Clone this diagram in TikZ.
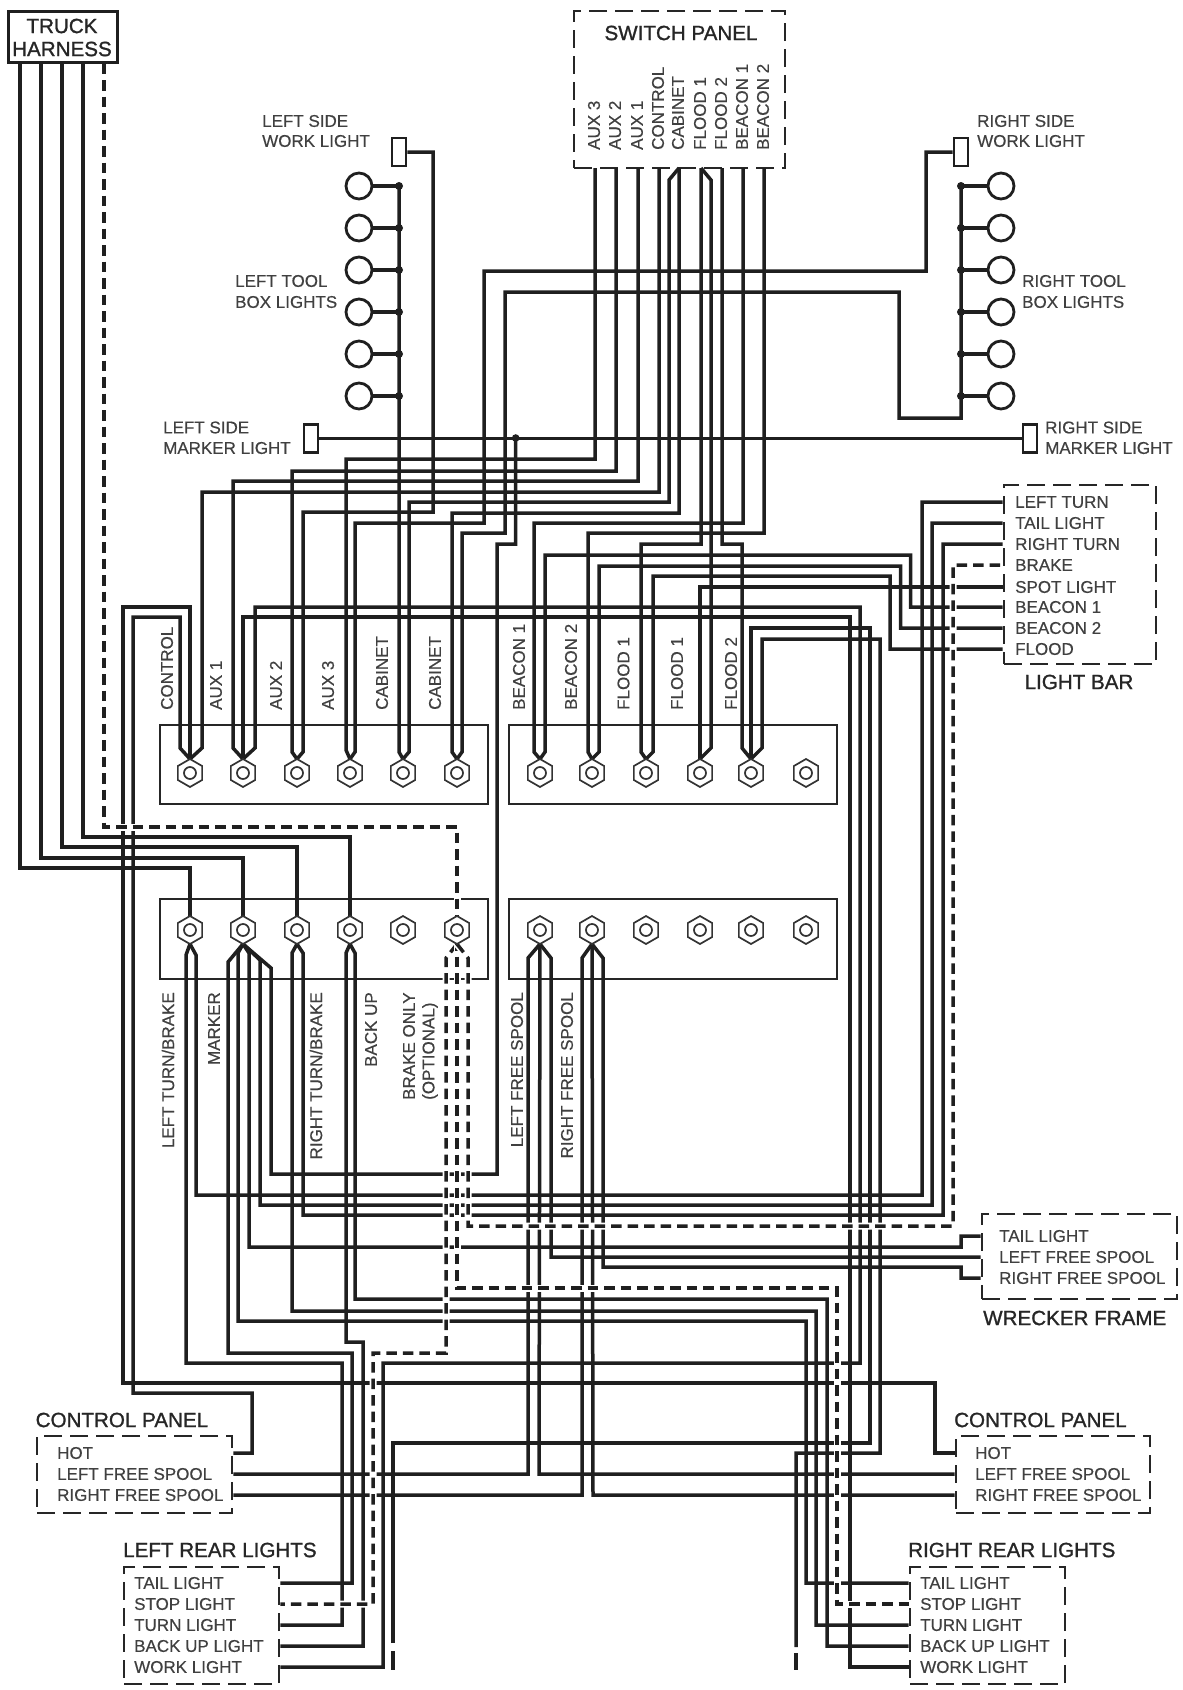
\documentclass[tikz,border=0pt]{standalone}
\usepackage{fontspec}
\setmainfont{Liberation Sans}
\newfontfamily\lblfont[FakeBold=0.5]{Liberation Sans}
\newfontfamily\ttlfont[FakeBold=1.2]{Liberation Sans}
\usetikzlibrary{calc, positioning, shapes.geometric}
\tikzset{
    wire/.style={line width=3.5pt, draw=black!88, line join=miter},
    dashwire/.style={wire, dash pattern=on 10.5pt off 6pt, preaction={draw=white, line width=7pt, solid}},
    panel/.style={rectangle, draw=black!85, line width=2.8pt, dash pattern=on 18pt off 8pt, inner sep=0pt},
    truck/.style={rectangle, draw=black!88, line width=3pt, inner sep=0pt},
    block/.style={rectangle, draw=black!85, line width=2.8pt, inner sep=0pt},
    lamp/.style={rectangle, draw=black!88, line width=2.8pt, inner sep=0pt, minimum width=14pt, minimum height=28pt},
    bulb/.style={circle, draw=black!88, line width=2.8pt, inner sep=0pt, minimum size=26pt},
    stud/.style={regular polygon, regular polygon sides=6, shape border rotate=30, draw=black!80, line width=1.7pt, inner sep=0pt, minimum size=28pt, fill=white},
    lbl/.style={font=\lblfont\fontsize{17}{20.5}\selectfont, text=black!75, inner sep=0pt, anchor=west},
    ttl/.style={font=\ttlfont\fontsize{20.6}{23}\selectfont, text=black!85, inner sep=0pt},
    vlbl/.style={lbl, rotate=90}
}
\begin{document}
\begin{tikzpicture}[x=1pt, y=-1pt]
    \useasboundingbox (0,0) rectangle (1183,1690);

    % Boxes
    \node[truck, minimum width=109pt, minimum height=51pt] (truckBox) at (62.5,36.5) {};
    \node[ttl] (truckA) at (62,26) {TRUCK};
    \node[ttl] (truckB) at (62,49) {HARNESS};
    \node[panel, minimum width=211pt, minimum height=157pt] (switchBox) at (679.5,89.5) {};
    \node[ttl] (switchTtl) at (681,33) {SWITCH PANEL};
    \node[panel, minimum width=152pt, minimum height=179pt] (lightBar) at (1080,574.5) {};
    \node[ttl] (lightTtl) at (1079,682) {LIGHT BAR};
    \node[panel, minimum width=195pt, minimum height=85pt] (wrecker) at (1079.5,1256.5) {};
    \node[ttl, anchor=west] (wreckerTtl) at (983,1318) {WRECKER FRAME};
    \node[panel, minimum width=195pt, minimum height=77pt] (ctlL) at (134.5,1474.5) {};
    \node[ttl, anchor=west] (ctlLTtl) at (35.5,1420) {CONTROL PANEL};
    \node[panel, minimum width=194pt, minimum height=77pt] (ctlR) at (1053,1474.5) {};
    \node[ttl, anchor=west] (ctlRTtl) at (954,1420) {CONTROL PANEL};
    \node[panel, minimum width=155pt, minimum height=117pt] (rearL) at (201.5,1625.5) {};
    \node[ttl, anchor=west] (rearLTtl) at (123,1550) {LEFT REAR LIGHTS};
    \node[panel, minimum width=155pt, minimum height=117pt] (rearR) at (987.5,1625.5) {};
    \node[ttl, anchor=west] (rearRTtl) at (908,1550) {RIGHT REAR LIGHTS};

    % Terminal blocks
    \node[block, minimum width=328pt, minimum height=79pt] (upL) at (324,764.5) {};
    \node[block, minimum width=328pt, minimum height=79pt] (upR) at (673,764.5) {};
    \node[block, minimum width=328pt, minimum height=80pt] (loL) at (324,939) {};
    \node[block, minimum width=328pt, minimum height=80pt] (loR) at (673,939) {};

    % Panel rows
    \foreach \nm/\tx/\y in {lbLeftTurn/LEFT TURN/502, lbTail/TAIL LIGHT/523, lbRightTurn/RIGHT TURN/544, lbBrake/BRAKE/565, lbSpot/SPOT LIGHT/587, lbBeacon1/BEACON 1/607, lbBeacon2/BEACON 2/628, lbFlood/FLOOD/649}
        \node[lbl] (\nm) at (1015,\y) {\tx};
    \foreach \nm/\tx/\y in {wfTail/TAIL LIGHT/1236, wfLeft/LEFT FREE SPOOL/1257, wfRight/RIGHT FREE SPOOL/1278}
        \node[lbl] (\nm) at (999,\y) {\tx};
    \foreach \nm/\tx/\y in {clHot/HOT/1453, clLeft/LEFT FREE SPOOL/1474, clRight/RIGHT FREE SPOOL/1495}
        \node[lbl] (\nm) at (57,\y) {\tx};
    \foreach \nm/\tx/\y in {crHot/HOT/1453, crLeft/LEFT FREE SPOOL/1474, crRight/RIGHT FREE SPOOL/1495}
        \node[lbl] (\nm) at (975,\y) {\tx};
    \foreach \nm/\tx/\y in {lrTail/TAIL LIGHT/1583, lrStop/STOP LIGHT/1604, lrTurn/TURN LIGHT/1625, lrBack/BACK UP LIGHT/1646, lrWork/WORK LIGHT/1667}
        \node[lbl] (\nm) at (134,\y) {\tx};
    \foreach \nm/\tx/\y in {rrTail/TAIL LIGHT/1583, rrStop/STOP LIGHT/1604, rrTurn/TURN LIGHT/1625, rrBack/BACK UP LIGHT/1646, rrWork/WORK LIGHT/1667}
        \node[lbl] (\nm) at (920,\y) {\tx};

    % Side lights
    \node[lamp] (leftWork) at (399,152) {};
    \node[lamp] (rightWork) at (961,152) {};
    \node[lamp] (leftMarker) at (311,438.5) {};
    \node[lamp] (rightMarker) at (1030,438.5) {};
    \node[lbl] (lwA) at (262,121) {LEFT SIDE};
    \node[lbl] (lwB) at (262,141) {WORK LIGHT};
    \node[lbl] (rwA) at (977,121) {RIGHT SIDE};
    \node[lbl] (rwB) at (977,141) {WORK LIGHT};
    \node[lbl] (ltA) at (235,281) {LEFT TOOL};
    \node[lbl] (ltB) at (235,302) {BOX LIGHTS};
    \node[lbl] (rtA) at (1022,281) {RIGHT TOOL};
    \node[lbl] (rtB) at (1022,302) {BOX LIGHTS};
    \node[lbl] (lmA) at (163,427.5) {LEFT SIDE};
    \node[lbl] (lmB) at (163,448) {MARKER LIGHT};
    \node[lbl] (rmA) at (1045,427.5) {RIGHT SIDE};
    \node[lbl] (rmB) at (1045,448) {MARKER LIGHT};

    % Tool box lights
    \foreach \i/\y in {1/186, 2/228, 3/270, 4/312, 5/354, 6/396} {
        \node[bulb] (ltb\i) at (359,\y) {};
        \node[bulb] (rtb\i) at (1001,\y) {};
        \draw[wire] (ltb\i.east) -- (399,\y);
        \draw[wire] (rtb\i.west) -- (961,\y);
        \fill[black!88] (399,\y) circle (4);
        \fill[black!88] (961,\y) circle (4);
    }

    % Stud ends, placed first so that wires can name them
    \foreach \i/\x in {1/190, 2/243, 3/297, 4/350, 5/403, 6/457, 7/540, 8/592, 9/646, 10/700, 11/751, 12/806} {
        \coordinate (up\i) at (\x,759);
        \coordinate (dn\i) at (\x,944);
        \coordinate (tp\i) at (\x,916);
    }

    % Switch panel terminals
    \foreach \nm/\tx/\x in {swAux3/AUX 3/595, swAux2/AUX 2/616, swAux1/AUX 1/638, swControl/CONTROL/659, swCabinet/CABINET/679, swFlood1/FLOOD 1/701, swFlood2/FLOOD 2/722, swBeacon1/BEACON 1/743, swBeacon2/BEACON 2/764} {
        \coordinate (\nm) at (\x,168);
        \node[vlbl] (\nm Txt) at (\x-1,150) {\tx};
    }

    % Switch panel to upper studs
    \draw[wire] (swAux3) |- (346,459) -- (346,750) -- (up4);
    \draw[wire] (swAux2) |- (292,471) -- (292,752) -- (up3);
    \draw[wire] (swAux1) |- (233,481) -- (233,748) -- (up2);
    \draw[wire] (swControl) |- (202,492) -- (202,748) -- (up1);
    \draw[wire] (swCabinet) -- (669,180) |- (409,502) -- (409,752) -- (up5);
    \draw[wire] (swCabinet) |- (452,513) -- (452,752) -- (up6);
    \draw[wire] (swBeacon1) |- (534,523) -- (534,752) -- (up7);
    \draw[wire] (swBeacon2) |- (588,533) -- (588,752) -- (up8);
    \draw[wire] (swFlood1) |- (641,544) -- (641,752) -- (up9);
    \draw[wire] (swFlood1) -- (711,180) -- (711,748) -- (up10);
    \draw[wire] (swFlood2) |- (742,544) -- (742,748) -- (up11);

    % Work and tool box lights
    \draw[wire] (leftWork.east) -| (433,512) -- (303,512) -- (303,752) -- (up3);
    \draw[wire] (rightWork.west) -| (926,271) -- (484,271) -- (484,523) -- (355,523) -- (355,752) -- (up4);
    \draw[wire] (399,186) -- (399,752) -- (up5);
    \draw[wire] (961,186) -- (961,418) -- (899,418) -- (899,292) -- (505,292) -- (505,533) -- (462,533) -- (462,752) -- (up6);

    % Marker lights
    \draw[wire] (leftMarker.east) -- (rightMarker.west);
    \fill[black!88] (515.7,438) circle (3.8);
    \draw[wire] (515.7,438) -- (515.7,544) -- (497,544) -- (497,1174) -- (271,1174) -- (271,968) -- (dn2);

    % Light bar to upper studs
    \draw[wire] (lightBar.west |- lbBeacon1) -| (910.5,555) -- (545,555) -- (545,752) -- (up7);
    \draw[wire] (lightBar.west |- lbBeacon2) -| (900.5,566) -- (599,566) -- (599,752) -- (up8);
    \draw[wire] (lightBar.west |- lbFlood) -| (890,576) -- (653,576) -- (653,752) -- (up9);
    \draw[wire] (lightBar.west |- lbSpot) -- (700,587) -- (700,752) -- (up10);

    % Control panels and right side runs
    \draw[wire] (ctlL.east |- clHot) -| (252,1393) -- (133,1393) -- (133,617) -- (180,617) -- (180,748) -- (up1);
    \draw[wire] (ctlR.west |- crHot) -| (935,1383) -- (123,1383) -- (123,607) -- (190,607) -- (up1);
    \draw[wire] (rearL.east |- lrWork) -| (383,1363) -- (860,1363) -- (860,607) -- (255,607) -- (255,748) -- (up2);
    \draw[wire] (rearR.west |- rrWork) -| (850,617) -- (243,617) -- (up2);
    \coordinate (freeL) at (393,1643);
    \coordinate (freeR) at (796,1647);
    \draw[wire] (freeL) -- (393,1443) -- (870,1443) -- (870,628) -- (751,628) -- (up11);
    \draw[wire] (freeR) -- (796,1453) -- (880,1453) -- (880,639) -- (762,639) -- (762,748) -- (up11);
    \draw[wire] (393,1651) -- (393,1670);
    \draw[wire] (796,1653) -- (796,1670);

    % Truck harness
    \draw[wire] (truckBox.south -| 20,0) -- (20,868) -- (190,868) -- (tp1);
    \draw[wire] (truckBox.south -| 41,0) -- (41,858) -- (243,858) -- (tp2);
    \draw[wire] (truckBox.south -| 62,0) -- (62,847) -- (297,847) -- (tp3);
    \draw[wire] (truckBox.south -| 83,0) -- (83,837) -- (350,837) -- (tp4);

    % Lower studs
    \draw[wire] (rearL.east |- lrTurn) -| (342,1363) -- (186,1363) -- (186,955) -- (dn1);
    \draw[wire] (lightBar.west |- lbLeftTurn) -| (922,1195) -- (196,1195) -- (196,955) -- (dn1);
    \draw[wire] (rearL.east |- lrTail) -| (352,1353) -- (228,1353) -- (228,962) -- (dn2);
    \draw[wire] (rearR.west |- rrTail) -| (806,1321) -- (238,1321) -- (238,953) -- (dn2);
    \draw[wire] (wrecker.west |- wfTail) -| (961,1247) -- (249,1247) -- (249,953) -- (dn2);
    \draw[wire] (lightBar.west |- lbTail) -| (932,1205) -- (260,1205) -- (260,960) -- (dn2);
    \draw[wire] (rearR.west |- rrTurn) -| (816,1311) -- (292,1311) -- (292,953) -- (dn3);
    \draw[wire] (lightBar.west |- lbRightTurn) -| (943,1215) -- (303,1215) -- (303,953) -- (dn3);
    \draw[wire] (rearL.east |- lrBack) -| (363,1342) -- (346,1342) -- (346,953) -- (dn4);
    \draw[wire] (rearR.west |- rrBack) -| (827,1299) -- (355,1299) -- (355,953) -- (dn4);
    \draw[wire] (ctlL.east |- clLeft) -- (528,1474) -- (528,958) -- (dn7);
    \draw[wire] (ctlR.west |- crLeft) -- (539,1474) -- (dn7);
    \draw[wire] (wrecker.west |- wfLeft) -- (551,1257) -- (551,958) -- (dn7);
    \draw[wire] (ctlL.east |- clRight) -- (582,1495) -- (582,958) -- (dn8);
    \draw[wire] (ctlR.west |- crRight) -- (593,1495) -- (dn8);
    \draw[wire] (wrecker.west |- wfRight) -| (961,1267) -- (603,1267) -- (603,958) -- (dn8);

    % Optional brake circuit
    \draw[dashwire] (truckBox.south -| 104,0) -- (104,827) -- (457,827) -- (tp6);
    \draw[dashwire] (dn6) -- (446,958) -- (446,1353) -- (373,1353) -- (373,1604) -- (rearL.east |- lrStop);
    \draw[dashwire, dash phase=3.8pt] (dn6) -- (457,1288) -- (837,1288) -- (837,1604) -- (rearR.west |- rrStop);
    \draw[dashwire] (dn6) -- (468,958) -- (468,1226) -- (953,1226) |- (lightBar.west |- lbBrake);

    % Hexagon studs
    \foreach \i/\x in {1/190, 2/243, 3/297, 4/350, 5/403, 6/457, 7/540, 8/592, 9/646, 10/700, 11/751, 12/806} {
        \node[stud] (upStud\i) at (\x,773) {};
        \node[stud] (loStud\i) at (\x,930) {};
        \draw[black!80, line width=1.7pt] (upStud\i) circle (6);
        \draw[black!80, line width=1.7pt] (loStud\i) circle (6);
    }

    % Upper stud labels
    \foreach \nm/\tx/\x in {ulA/CONTROL/167, ulB/AUX 1/216, ulC/AUX 2/276, ulD/AUX 3/328, ulE/CABINET/382, ulF/CABINET/435, ulG/BEACON 1/519, ulH/BEACON 2/571, ulI/FLOOD 1/623.5, ulJ/FLOOD 1/677, ulK/FLOOD 2/731}
        \node[vlbl, anchor=west] (\nm) at (\x,710) {\tx};

    % Lower stud labels
    \foreach \nm/\tx/\x in {llA/LEFT TURN\slash BRAKE/168, llB/MARKER/214, llC/RIGHT TURN\slash BRAKE/316, llD/BACK UP/371, llG/LEFT FREE SPOOL/517, llH/RIGHT FREE SPOOL/567}
        \node[vlbl, anchor=east] (\nm) at (\x,992) {\tx};
    \node[vlbl, anchor=west] (llE) at (409,1100) {BRAKE ONLY};
    \node[vlbl, anchor=west] (llF) at (430,1100) {(OPTIONAL)};
\end{tikzpicture}
\end{document}
